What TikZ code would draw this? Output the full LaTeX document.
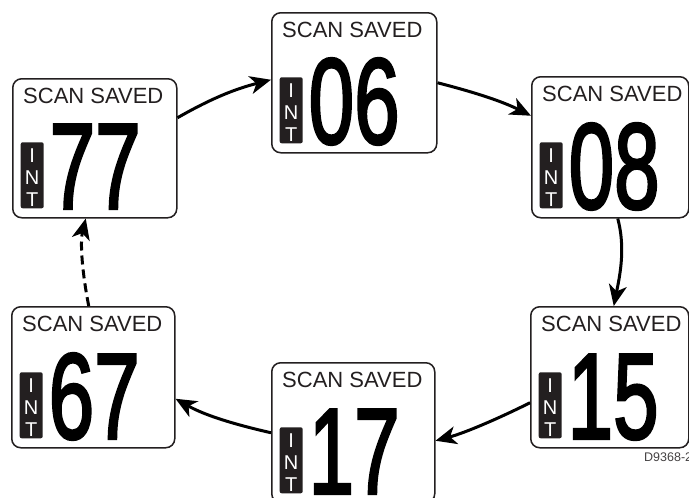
\documentclass[tikz,border=0pt]{standalone}
\usepackage{fontspec}
\setmainfont{Liberation Sans}
\newfontfamily\digfont[FakeBold=2.5]{Liberation Sans}
\usetikzlibrary{arrows.meta}
\definecolor{ink}{HTML}{231F20}
\tikzset{
  box/.style={draw=ink, line width=1.5pt, rounded corners=9pt, fill=white, inner sep=0pt, anchor=north west},
  title/.style={inner sep=0pt, font=\fontsize{22}{22}\selectfont, text=ink, anchor=base west},
  badge/.style={fill=ink, rounded corners=2pt, minimum width=23pt, minimum height=66pt, inner sep=0pt, anchor=south west},
  intl/.style={inner sep=0pt, font=\fontsize{20}{20}\selectfont, text=white, anchor=base},
  digits/.style={inner sep=0pt, font=\digfont\fontsize{122}{122}\selectfont, text=black, anchor=base west},
  arr/.style={line width=3pt, draw=black, -{Stealth[length=21pt,width=18pt,inset=6pt]}},
  darr/.style={arr, dash pattern=on 9pt off 5pt},
  lbl/.style={inner sep=0pt, font=\fontsize{12.5}{12.5}\selectfont, text=ink!85, anchor=base west}
}
\newcommand\scanbox[6]{%
  \node[box, minimum width=#4pt, minimum height=#5pt] (#1) at (#2,#3) {};
  \node[title] (#1-t) at ([xshift=11pt,yshift=-25.5pt]#1.north west) {SCAN SAVED};
  \node[badge] (#1-b) at ([xshift=8.5pt,yshift=10pt]#1.south west) {};
  \node[intl] (#1-i) at ([yshift=46pt]#1-b.south) {I};
  \node[intl] (#1-n) at ([yshift=24pt]#1-b.south) {N};
  \node[intl] (#1-x) at ([yshift=2pt]#1-b.south) {T};
  \node[digits] (#1-d) at ([xshift=37.5pt,yshift=10pt]#1.south west) {\scalebox{0.67}[1]{#6}};
}
\begin{document}
\begin{tikzpicture}[x=1pt,y=-1pt]
  \useasboundingbox[fill=white] (0,0) rectangle (689,498);
  \scanbox{b77}{12}{78}{164}{139}{77}
  \scanbox{b06}{271}{12}{165}{140}{06}
  \scanbox{b08}{531}{76}{157}{141}{08}
  \scanbox{b15}{530}{306}{158}{141}{15}
  \scanbox{b17}{271}{362}{163}{140}{17}
  \scanbox{b67}{11}{306}{163}{141}{67}
  \draw[arr] ([yshift=30.5pt]b77.east) .. controls +(35,-20) and +(-35,9) .. ([yshift=3pt]b06.west);
  \draw[arr] (b06.east) .. controls +(35,9) and +(-30,-15) .. ([yshift=31.5pt]b08.west);
  \draw[arr] ([xshift=7.5pt]b08.south) .. controls +(8,30) and +(6,-30) .. ([xshift=4pt]b15.north);
  \draw[arr] ([yshift=-25.5pt]b15.west) .. controls +(-30,15) and +(30,-8) .. ([yshift=-8pt]b17.east);
  \draw[arr] (b17.west) .. controls +(-35,-8) and +(30,17) .. ([yshift=-21.5pt]b67.east);
  \draw[darr] ([xshift=-4.5pt]b67.north) .. controls +(-6,-30) and +(-6,25) .. ([xshift=-9pt]b77.south);
  \node[lbl] (code) at (644,461) {D9368-2};
\end{tikzpicture}
\end{document}
